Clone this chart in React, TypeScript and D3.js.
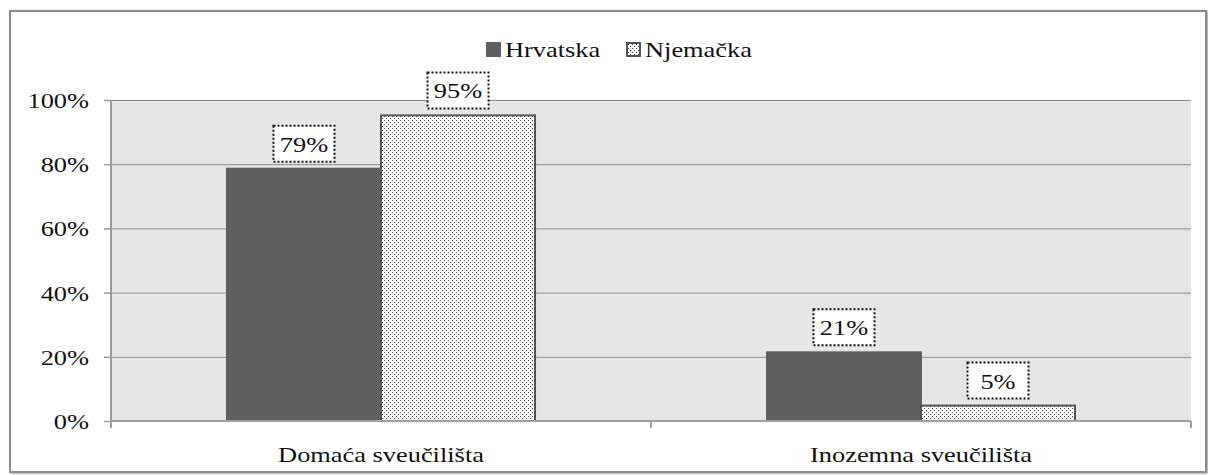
import * as React from 'react';
import * as d3 from 'd3';

const WIDTH = 1208;
const HEIGHT = 475;

const categories = ['Domaća sveučilišta', 'Inozemna sveučilišta'];
const seriesNames = ['Hrvatska', 'Njemačka'];
const hrvatska = [78.6, 21.4];
const njemacka = [95.2, 4.8];
const yTicks = [0, 20, 40, 60, 80, 100];

const STRETCH = 1.2;
const margin = { top: 100, right: 17, bottom: 54, left: 111 };

const x0 = margin.left;
const x1 = WIDTH - margin.right;
const y0 = HEIGHT - margin.bottom;
const y1 = margin.top;

const y = d3.scaleLinear().domain([0, 100]).range([y0, y1]);
const xCat = d3.scaleBand().domain(categories).range([x0, x1]).paddingInner(0).paddingOuter(0);
const xSeries = d3
  .scaleBand()
  .domain(seriesNames)
  .range([0, xCat.bandwidth()])
  .paddingInner(0)
  .paddingOuter(0.753);

const series = [
  { name: seriesNames[0], values: hrvatska, fill: '#5f5f5f', stroke: '#5f5f5f' },
  { name: seriesNames[1], values: njemacka, fill: 'url(#dots)', stroke: '#555' },
];

const legendX = [486, 626];

function Label({ x, y: yy, anchor, children }: { x: number; y: number; anchor: string; children: React.ReactNode }) {
  return (
    <text
      transform={`translate(${x},${yy}) scale(${STRETCH},1)`}
      textAnchor={anchor}
      fill="#111"
      style={{ fontFamily: 'Liberation Serif', fontSize: 22 }}
    >
      {children}
    </text>
  );
}

export default function App() {
  React.useEffect(() => {
    document.body.style.margin = '0';
  }, []);

  const cutPoints = [x0, ...categories.map(c => (xCat(c) as number) + xCat.bandwidth())];

  return (
    <svg width={WIDTH} height={HEIGHT} style={{ display: 'block', fontFamily: 'Liberation Serif' }}>
      <defs>
        <pattern id="dots" width={4} height={4} patternUnits="userSpaceOnUse">
          <rect width={4} height={4} fill="#fff" />
          <rect x={0} y={0} width={1} height={1} fill="#444" />
          <rect x={2} y={2} width={1} height={1} fill="#444" />
        </pattern>
        <filter id="shadow" x="-5%" y="-5%" width="110%" height="110%">
          <feDropShadow dx={2} dy={1} stdDeviation={1.5} floodColor="#888" floodOpacity={0.7} />
        </filter>
      </defs>

      {/* frame */}
      <rect x={10} y={11} width={1196} height={461} fill="#fff" stroke="#8c8c8c" strokeWidth={2} filter="url(#shadow)" />

      {/* plot background */}
      <rect x={x0} y={y1} width={x1 - x0} height={y0 - y1} fill="#e6e6e6" />

      {/* gridlines */}
      {yTicks
        .filter(t => t > 0)
        .map(t => (
          <line key={t} x1={x0} x2={x1} y1={y(t) + 0.5} y2={y(t) + 0.5} stroke="#8a8a8a" strokeWidth={1} />
        ))}

      {/* y axis */}
      <line x1={x0} x2={x0} y1={y1} y2={y0 + 6} stroke="#9a9a9a" strokeWidth={2} />
      {yTicks.map(t => (
        <g key={t}>
          <line x1={x0 - 7} x2={x0} y1={y(t) + 0.5} y2={y(t) + 0.5} stroke="#9a9a9a" strokeWidth={1.5} />
          <Label x={89} y={y(t) + 8} anchor="end">{`${t}%`}</Label>
        </g>
      ))}

      {/* bars */}
      {series.map(s =>
        categories.map((c, i) => (
          <rect
            key={s.name + c}
            x={(xCat(c) as number) + (xSeries(s.name) as number)}
            y={y(s.values[i])}
            width={xSeries.bandwidth()}
            height={y0 - y(s.values[i])}
            fill={s.fill}
            stroke={s.stroke}
            strokeWidth={2}
          />
        )),
      )}

      {/* x axis */}
      <line x1={x0} x2={x1} y1={y0} y2={y0} stroke="#a0a0a0" strokeWidth={2} />
      {cutPoints.map(p => (
        <line key={p} x1={p} x2={p} y1={y0} y2={y0 + 7} stroke="#a0a0a0" strokeWidth={2} />
      ))}
      {categories.map(c => (
        <Label key={c} x={(xCat(c) as number) + xCat.bandwidth() / 2} y={y0 + 41} anchor="middle">
          {c}
        </Label>
      ))}

      {/* data labels */}
      {series.map(s =>
        categories.map((c, i) => {
          const cx = (xCat(c) as number) + (xSeries(s.name) as number) + xSeries.bandwidth() / 2;
          const top = y(s.values[i]);
          const bw = 61;
          const bh = 36;
          return (
            <g key={'l' + s.name + c}>
              <rect
                x={cx - bw / 2}
                y={top - 7 - bh}
                width={bw}
                height={bh}
                fill="#fff"
                stroke="#111"
                strokeWidth={2}
                strokeDasharray="2,2"
              />
              <Label x={cx} y={top - 7 - bh / 2 + 8} anchor="middle">{`${Math.round(s.values[i])}%`}</Label>
            </g>
          );
        }),
      )}

      {/* legend */}
      {series.map((s, i) => (
        <g key={'lg' + s.name}>
          <rect x={legendX[i] + 1} y={43} width={13} height={13} fill={s.fill} stroke={s.stroke} strokeWidth={2} />
          <Label x={legendX[i] + 19} y={57} anchor="start">
            {s.name}
          </Label>
        </g>
      ))}
    </svg>
  );
}
